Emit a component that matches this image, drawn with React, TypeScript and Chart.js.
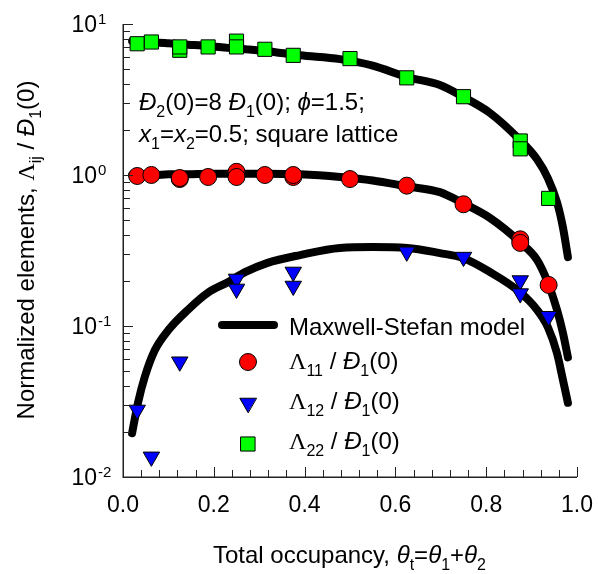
import React, { useEffect, useRef } from 'react';
import { Chart, registerables } from 'chart.js';
Chart.register(...registerables);

// Maxwell-Stefan model curves
const modelX = [0.02, 0.033, 0.048, 0.07, 0.1, 0.143, 0.187, 0.231, 0.27, 0.317, 0.39, 0.478, 0.55, 0.626, 0.698, 0.749, 0.808, 0.874, 0.912, 0.936, 0.956, 0.969, 0.98];
const modelL11 = [1.0, 1.0, 1.0, 1.0, 1.01, 1.01, 1.02, 1.02, 1.02, 1.02, 1.01, 0.97, 0.92, 0.84, 0.77, 0.65, 0.52, 0.36, 0.274, 0.193, 0.128, 0.09, 0.062];
const modelL12 = [0.0195, 0.031, 0.046, 0.069, 0.094, 0.128, 0.166, 0.195, 0.228, 0.261, 0.295, 0.329, 0.333, 0.329, 0.304, 0.282, 0.228, 0.168, 0.128, 0.098, 0.066, 0.044, 0.031];
const modelL22 = [7.7, 7.65, 7.6, 7.55, 7.45, 7.3, 7.15, 6.95, 6.8, 6.6, 6.2, 5.85, 5.3, 4.45, 3.94, 3.29, 2.58, 1.71, 1.27, 0.95, 0.66, 0.45, 0.286];

// Simulation points
const simX11 = [0.03125, 0.0625, 0.125, 0.125, 0.1875, 0.25, 0.25, 0.3125, 0.375, 0.375, 0.5, 0.625, 0.75, 0.875, 0.875, 0.9375];
const simL11 = [0.985, 1.0, 0.94, 0.955, 0.97, 1.05, 0.97, 1.0, 0.97, 1.0, 0.94, 0.85, 0.64, 0.375, 0.355, 0.187];
const simX12 = [0.03125, 0.0625, 0.125, 0.25, 0.25, 0.375, 0.375, 0.625, 0.75, 0.875, 0.875, 0.9375];
const simL12 = [0.0278, 0.0136, 0.058, 0.205, 0.176, 0.228, 0.184, 0.31, 0.286, 0.2, 0.164, 0.116];
const simX22 = [0.03125, 0.0625, 0.125, 0.125, 0.1875, 0.25, 0.25, 0.3125, 0.375, 0.5, 0.625, 0.75, 0.875, 0.875, 0.9375];
const simL22 = [7.4, 7.6, 6.7, 7.05, 7.05, 7.7, 7.05, 6.8, 6.2, 5.9, 4.4, 3.3, 1.68, 1.49, 0.7];

// Axis ticks
const xTickValues = [0, 0.2, 0.4, 0.6, 0.8, 1.0];
const xTickLabels = ['0.0', '0.2', '0.4', '0.6', '0.8', '1.0'];
const yDecades = [-2, -1, 0, 1];
const yTickBase = '10';

const SANS = '"Liberation Sans", Arial, "DejaVu Sans", sans-serif';
const SERIF = '"Liberation Serif", "DejaVu Serif", serif';

type Run = { t: string; s?: 'n' | 'i' | 'g' | 'b' | 'p' };

function runFont(s: string | undefined, size: number) {
  switch (s) {
    case 'i': return `italic ${size}px ${SANS}`;
    case 'g': return `${size}px ${SERIF}`;
    case 'b': return `${Math.round(size * 0.68)}px ${SANS}`;
    case 'p': return `${Math.round(size * 0.68)}px ${SANS}`;
    default: return `${size}px ${SANS}`;
  }
}
function richWidth(ctx: CanvasRenderingContext2D, runs: Run[], size: number) {
  let w = 0;
  for (const r of runs) { ctx.font = runFont(r.s, size); w += ctx.measureText(r.t).width; }
  return w;
}
function drawRich(ctx: CanvasRenderingContext2D, runs: Run[], x: number, y: number, size: number, align: 'left' | 'center' = 'left') {
  let cx = x;
  if (align === 'center') cx = x - richWidth(ctx, runs, size) / 2;
  ctx.textAlign = 'left';
  ctx.textBaseline = 'alphabetic';
  for (const r of runs) {
    ctx.font = runFont(r.s, size);
    let dy = 0;
    if (r.s === 'b') dy = size * 0.28;
    if (r.s === 'p') dy = -size * 0.4;
    ctx.fillText(r.t, cx, y + dy);
    cx += ctx.measureText(r.t).width;
  }
}

function drawMarker(ctx: CanvasRenderingContext2D, style: string, x: number, y: number, r: number, fill: string) {
  ctx.save();
  ctx.fillStyle = fill;
  ctx.strokeStyle = '#000';
  ctx.lineWidth = 1;
  ctx.beginPath();
  if (style === 'circle') {
    ctx.arc(x, y, r, 0, Math.PI * 2);
  } else if (style === 'triangle') {
    for (let k = 0; k < 3; k++) {
      const a = Math.PI + k * (2 * Math.PI / 3);
      const px = x + Math.sin(a) * r;
      const py = y - Math.cos(a) * r;
      if (k === 0) ctx.moveTo(px, py); else ctx.lineTo(px, py);
    }
    ctx.closePath();
  } else {
    const s = Math.SQRT1_2 * r;
    ctx.rect(x - s, y - s, 2 * s, 2 * s);
  }
  ctx.fill();
  ctx.stroke();
  ctx.restore();
}

const decorPlugin = {
  id: 'decor',
  afterDraw(chart: any) {
    const ctx: CanvasRenderingContext2D = chart.ctx;
    const xs = chart.scales.x;
    const ys = chart.scales.y;
    const area = chart.chartArea;
    ctx.save();
    ctx.fillStyle = '#000';
    ctx.strokeStyle = '#222';

    // axis lines
    ctx.lineWidth = 1.5;
    ctx.beginPath();
    ctx.moveTo(Math.round(area.left) + 0.25, Math.round(area.top));
    ctx.lineTo(Math.round(area.left) + 0.25, Math.round(area.bottom) + 0.25);
    ctx.lineTo(Math.round(area.right), Math.round(area.bottom) + 0.25);
    ctx.stroke();

    // x ticks (inward)
    ctx.lineWidth = 1;
    for (let i = 0; i <= 25; i++) {
      const px = Math.round(xs.getPixelForValue(i / 25)) + 0.5;
      const len = i % 5 === 0 ? 10 : 7;
      ctx.beginPath();
      ctx.moveTo(px, area.bottom);
      ctx.lineTo(px, area.bottom - len);
      ctx.stroke();
    }
    // y ticks (inward)
    for (const d of yDecades) {
      const py = Math.round(ys.getPixelForValue(Math.pow(10, d))) + 0.5;
      ctx.beginPath();
      ctx.moveTo(area.left, py);
      ctx.lineTo(area.left + 10, py);
      ctx.stroke();
      if (d < 1) {
        for (let m = 2; m <= 9; m++) {
          const pm = Math.round(ys.getPixelForValue(m * Math.pow(10, d))) + 0.5;
          ctx.beginPath();
          ctx.moveTo(area.left, pm);
          ctx.lineTo(area.left + 7, pm);
          ctx.stroke();
        }
      }
    }

    // x tick labels
    ctx.font = `23px ${SANS}`;
    ctx.textAlign = 'center';
    ctx.textBaseline = 'alphabetic';
    xTickValues.forEach((v, i) => {
      ctx.fillText(xTickLabels[i], xs.getPixelForValue(v), area.bottom + 35);
    });
    // y tick labels
    for (const d of yDecades) {
      const py = ys.getPixelForValue(Math.pow(10, d));
      ctx.font = `23px ${SANS}`;
      ctx.textAlign = 'right';
      ctx.fillText(yTickBase, area.left - 26, py + 8);
      ctx.font = `15px ${SANS}`;
      ctx.textAlign = 'left';
      ctx.fillText(String(d), area.left - 25, py - 0);
    }

    // x title
    drawRich(ctx, [
      { t: 'Total occupancy, ' }, { t: 'θ', s: 'i' }, { t: 't', s: 'b' }, { t: '=' },
      { t: 'θ', s: 'i' }, { t: '1', s: 'b' }, { t: '+' }, { t: 'θ', s: 'i' }, { t: '2', s: 'b' },
    ], 213, 563, 24);

    // y title
    ctx.save();
    ctx.translate(34, 250);
    ctx.rotate(-Math.PI / 2);
    drawRich(ctx, [
      { t: 'Normalized elements, ' }, { t: 'Λ', s: 'g' }, { t: 'ij', s: 'b' }, { t: ' / ' },
      { t: 'Đ', s: 'i' }, { t: '1', s: 'b' }, { t: '(0)' },
    ], 0, 0, 24, 'center');
    ctx.restore();

    // annotation
    drawRich(ctx, [
      { t: 'Đ', s: 'i' }, { t: '2', s: 'b' }, { t: '(0)=8 ' }, { t: 'Đ', s: 'i' }, { t: '1', s: 'b' },
      { t: '(0); ' }, { t: 'ϕ', s: 'i' }, { t: '=1.5;' },
    ], 139, 110, 24);
    drawRich(ctx, [
      { t: 'x', s: 'i' }, { t: '1', s: 'b' }, { t: '=' }, { t: 'x', s: 'i' }, { t: '2', s: 'b' },
      { t: '=0.5; square lattice' },
    ], 139, 142, 24);

    // legend
    ctx.strokeStyle = '#000';
    ctx.lineWidth = 8;
    ctx.lineCap = 'round';
    ctx.beginPath();
    ctx.moveTo(222, 325);
    ctx.lineTo(274, 325);
    ctx.stroke();
    ctx.fillStyle = '#000';
    drawRich(ctx, [{ t: 'Maxwell-Stefan model' }], 289, 335, 24);
    const rows: { st: string; fill: string; r: number; y: number; sub: string }[] = [
      { st: 'circle', fill: '#ff0000', r: 8.5, y: 362, sub: '11' },
      { st: 'triangle', fill: '#0000ff', r: 9.5, y: 403, sub: '12' },
      { st: 'rect', fill: '#00ff00', r: 10, y: 444, sub: '22' },
    ];
    rows.forEach((row, i) => {
      drawMarker(ctx, row.st, 248, row.y, row.r, row.fill);
      ctx.fillStyle = '#000';
      drawRich(ctx, [
        { t: 'Λ', s: 'g' }, { t: row.sub, s: 'b' }, { t: ' / ' }, { t: 'Đ', s: 'i' }, { t: '1', s: 'b' }, { t: '(0)' },
      ], 289, [369, 409, 449][i], 24);
    });

    ctx.restore();
  },
};

function pts(xv: number[], yv: number[]) {
  return xv.map((x, i) => ({ x, y: yv[i] }));
}

export default function App() {
  const ref = useRef<HTMLCanvasElement | null>(null);
  useEffect(() => {
    document.body.style.margin = '0';
    const canvas = ref.current!;
    const lineDs = (yv: number[]) => ({
      type: 'line' as const,
      data: pts(modelX, yv),
      showLine: true,
      borderColor: '#000',
      borderWidth: 8,
      borderCapStyle: 'round' as const,
      borderJoinStyle: 'round' as const,
      pointRadius: 0,
      cubicInterpolationMode: 'monotone' as const,
      fill: false,
      order: 2,
    });
    const chart = new Chart(canvas, {
      type: 'scatter',
      data: {
        datasets: [
          {
            label: 'Λ22', data: pts(simX22, simL22), pointStyle: 'rect', pointRadius: 10,
            backgroundColor: '#00ff00', borderColor: '#000', borderWidth: 1, order: 1,
          } as any,
          {
            label: 'Λ11', data: pts(simX11, simL11), pointStyle: 'circle', pointRadius: 8.5,
            backgroundColor: '#ff0000', borderColor: '#000', borderWidth: 1, order: 1,
          } as any,
          {
            label: 'Λ12', data: pts(simX12, simL12), pointStyle: 'triangle', rotation: 180, pointRadius: 9.5,
            backgroundColor: '#0000ff', borderColor: '#000', borderWidth: 1, order: 1,
          } as any,
          lineDs(modelL22) as any,
          lineDs(modelL11) as any,
          lineDs(modelL12) as any,
        ],
      },
      options: {
        animation: false,
        responsive: false,
        devicePixelRatio: 1,
        events: [],
        layout: { padding: { left: 123, right: 21, top: 24, bottom: 97 } },
        plugins: { legend: { display: false }, tooltip: { enabled: false }, title: { display: false } },
        scales: {
          x: { type: 'linear', min: 0, max: 1, display: false },
          y: { type: 'logarithmic', min: 0.01, max: 10, display: false },
        },
      },
      plugins: [decorPlugin],
    });
    return () => chart.destroy();
  }, []);
  return (
    <div style={{ position: 'fixed', left: 0, top: 0, width: 598, height: 574, background: '#fff' }}>
      <canvas ref={ref} width={598} height={574} style={{ width: 598, height: 574, display: 'block' }} />
    </div>
  );
}
